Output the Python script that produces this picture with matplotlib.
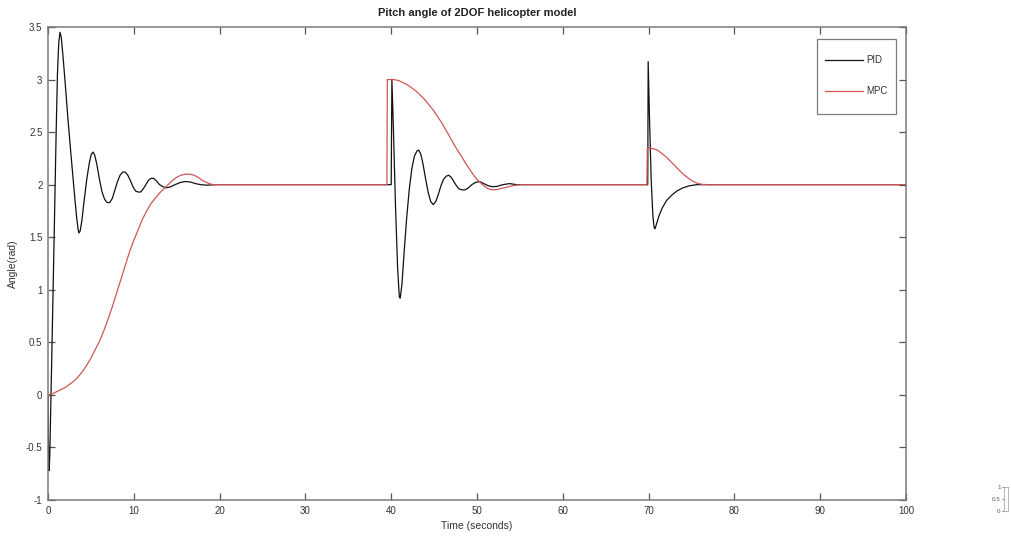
import matplotlib
matplotlib.use("Agg")
import matplotlib.pyplot as plt
from matplotlib.patches import Rectangle

plt.rcParams['font.family'] = ['Liberation Sans', 'DejaVu Sans']

# PID response (time in s, pitch angle in rad)
pid_t = [0.0, 0.05, 0.12, 0.2, 0.45, 0.75, 0.95, 1.1, 1.25, 1.4,
         1.55, 1.75, 2.0, 2.3, 2.6, 2.9, 3.15, 3.35, 3.5, 3.6, 3.75, 3.95,
         4.2, 4.5, 4.8, 5.05, 5.25, 5.45, 5.7, 6.0, 6.3, 6.6, 6.9, 7.2, 7.5, 7.8,
         8.1, 8.4, 8.7, 9.0, 9.3, 9.6, 9.9, 10.2, 10.5, 10.8, 11.1, 11.4, 11.7,
         12.0, 12.3, 12.6, 13.0, 13.4, 13.8, 14.3, 14.8, 15.4, 16.0, 16.6, 17.2,
         17.8, 18.5, 19.5,
         40.0, 40.08, 40.25, 40.5, 40.75, 40.95, 41.05, 41.25, 41.5, 41.8, 42.1,
         42.4, 42.7, 43.0, 43.2, 43.45, 43.7, 44.0, 44.3, 44.6, 44.9, 45.2, 45.5,
         45.8, 46.1, 46.4, 46.7, 47.0, 47.3, 47.6, 47.9, 48.3, 48.6, 49.0, 49.4,
         49.8, 50.3, 50.8, 51.3, 51.8, 52.4, 53.0, 53.8, 54.6, 55.0,
         69.9, 69.95, 70.1, 70.3, 70.5, 70.65, 70.75, 70.9, 71.2, 71.6, 72.1,
         72.7, 73.3, 74.0, 74.8, 75.6, 100.0]
pid_v = [0.0, -0.45, -0.72, -0.6, 0.4, 1.65, 2.5, 3.05, 3.35, 3.45,
         3.40, 3.22, 2.97, 2.65, 2.36, 2.08, 1.85, 1.68, 1.58, 1.54, 1.56, 1.66,
         1.84, 2.04, 2.2, 2.29, 2.31, 2.28, 2.19, 2.05, 1.93, 1.86, 1.83, 1.83, 1.87, 1.95,
         2.03, 2.09, 2.12, 2.12, 2.09, 2.04, 1.98, 1.94, 1.93, 1.93, 1.96, 2.0, 2.04,
         2.06, 2.06, 2.04, 2.0, 1.98, 1.97, 1.98, 2.0, 2.02, 2.03, 2.025, 2.01,
         2.0, 1.995, 2.0,
         2.0, 3.0, 2.55, 1.8, 1.2, 0.93, 0.92, 1.05, 1.35, 1.68, 1.95,
         2.15, 2.27, 2.32, 2.33, 2.29, 2.2, 2.06, 1.93, 1.84, 1.81, 1.84, 1.91,
         1.99, 2.05, 2.08, 2.09, 2.07, 2.03, 1.99, 1.96, 1.95, 1.95, 1.97, 2.0,
         2.02, 2.03, 2.01, 1.99, 1.98, 1.985, 2.0, 2.01, 2.0, 2.0,
         2.0, 3.17, 2.65, 2.05, 1.7, 1.59, 1.58, 1.62, 1.7, 1.78, 1.85,
         1.9, 1.94, 1.97, 1.99, 2.0, 2.0]

# MPC response
mpc_t = [0.0, 0.5, 1.0, 1.5, 2.0, 2.5, 3.0, 3.5, 4.0, 4.5, 5.0, 5.5, 6.0, 6.5, 7.0,
         7.5, 8.0, 8.5, 9.0, 9.5, 10.0, 10.5, 11.0, 11.5, 12.0, 12.5, 13.0, 13.5,
         14.0, 14.5, 15.0, 15.5, 16.0, 16.5, 17.0, 17.5, 18.0, 18.5, 19.2,
         39.5, 39.55, 40.3, 40.9, 41.4, 41.9, 42.4, 42.9, 43.4, 43.9, 44.4, 44.9,
         45.3, 45.8, 46.3, 46.8, 47.2, 47.7, 48.2, 48.7, 49.2, 49.6, 50.0, 50.4,
         50.8, 51.3, 51.9, 52.4, 52.9, 53.4, 53.9, 54.5, 55.2,
         69.8, 69.85, 70.4, 71.0, 71.5, 72.1, 72.7, 73.3, 73.9, 74.5, 75.0, 75.6,
         76.2, 77.0, 100.0]
mpc_v = [0.0, 0.01, 0.03, 0.05, 0.07, 0.1, 0.13, 0.17, 0.22, 0.28, 0.35, 0.43, 0.51, 0.61, 0.72,
         0.84, 0.97, 1.10, 1.23, 1.36, 1.47, 1.57, 1.67, 1.75, 1.82, 1.87, 1.92, 1.96,
         2.0, 2.04, 2.07, 2.09, 2.10, 2.10, 2.09, 2.07, 2.04, 2.02, 2.0,
         2.0, 3.0, 3.0, 2.99, 2.97, 2.95, 2.92, 2.89, 2.85, 2.81, 2.76, 2.71,
         2.66, 2.60, 2.53, 2.46, 2.40, 2.33, 2.27, 2.20, 2.14, 2.09, 2.05, 2.02,
         1.99, 1.96, 1.95, 1.955, 1.965, 1.975, 1.985, 1.995, 2.0,
         2.0, 2.35, 2.345, 2.33, 2.30, 2.26, 2.21, 2.16, 2.11, 2.07, 2.04, 2.015,
         2.003, 2.0, 2.0]

x_ticks = [0, 10, 20, 30, 40, 50, 60, 70, 80, 90, 100]
y_ticks = [-1, -0.5, 0, 0.5, 1, 1.5, 2, 2.5, 3, 3.5]
y_tick_labels = ['-1', '-0.5', '0', '0.5', '1', '1.5', '2', '2.5', '3', '3.5']

W, H = 1012, 543
fig = plt.figure(figsize=(W / 100, H / 100), dpi=100)
fig.patch.set_facecolor('white')

L, R, T, B = 48, 906, 27, 500
ax = fig.add_axes([L / W, (H - B) / H, (R - L) / W, (B - T) / H])

ax.plot(pid_t, pid_v, color='#111111', lw=0.9, label='PID')
ax.plot(mpc_t, mpc_v, color='#d05555', lw=0.9, label='MPC')

ax.set_xlim(0, 100)
ax.set_ylim(-1, 3.5)
ax.set_xticks(x_ticks)
ax.set_xticklabels([str(v) for v in x_ticks])
ax.set_yticks(y_ticks)
ax.set_yticklabels(y_tick_labels)

axis_gray = '#7a7a7a'
for s in ax.spines.values():
    s.set_color(axis_gray)
    s.set_linewidth(1.1)
ax.tick_params(direction='in', length=5, width=0.9, color='#555555',
               top=True, right=True, labelsize=7, labelcolor='#333333', pad=4)

ax.set_title('Pitch angle of 2DOF helicopter model', fontsize=8, fontweight='bold',
             color='#222222', pad=8)
ax.set_xlabel('Time (seconds)', fontsize=7.5, color='#333333', labelpad=4)
ax.set_ylabel('Angle(rad)', fontsize=7.5, color='#333333', labelpad=6)

# legend frame
lx0, lx1, ly0, ly1 = 817, 896, 39, 114
ax.add_patch(Rectangle(((lx0 - L) / (R - L), (B - ly1) / (B - T)),
                       (lx1 - lx0) / (R - L), (ly1 - ly0) / (B - T),
                       transform=ax.transAxes, facecolor='white',
                       edgecolor=axis_gray, lw=0.9, zorder=4))
leg = ax.legend(loc='upper left', bbox_to_anchor=((825 - L) / (R - L), (B - 55) / (B - T)),
                frameon=False, fontsize=7, borderpad=0, borderaxespad=0,
                handlelength=3.9, handletextpad=0.3, labelspacing=2.2)
leg.set_zorder(5)
for t in leg.get_texts():
    t.set_color('#333333')

# small scale strip at the lower right
sx = fig.add_axes([1004 / W, (H - 511) / H, 4 / W, 24 / H])
sx.set_ylim(0, 1)
sx.set_xticks([])
sx.set_yticks([0, 0.5, 1])
sx.set_yticklabels(['0', '0.5', '1'])
sx.tick_params(labelsize=4.5, length=1.5, pad=1, labelcolor='#555555', color='#888888')
for s in sx.spines.values():
    s.set_color('#aaaaaa')
    s.set_linewidth(0.6)

fig.savefig('out.png', dpi=100, facecolor='white')
